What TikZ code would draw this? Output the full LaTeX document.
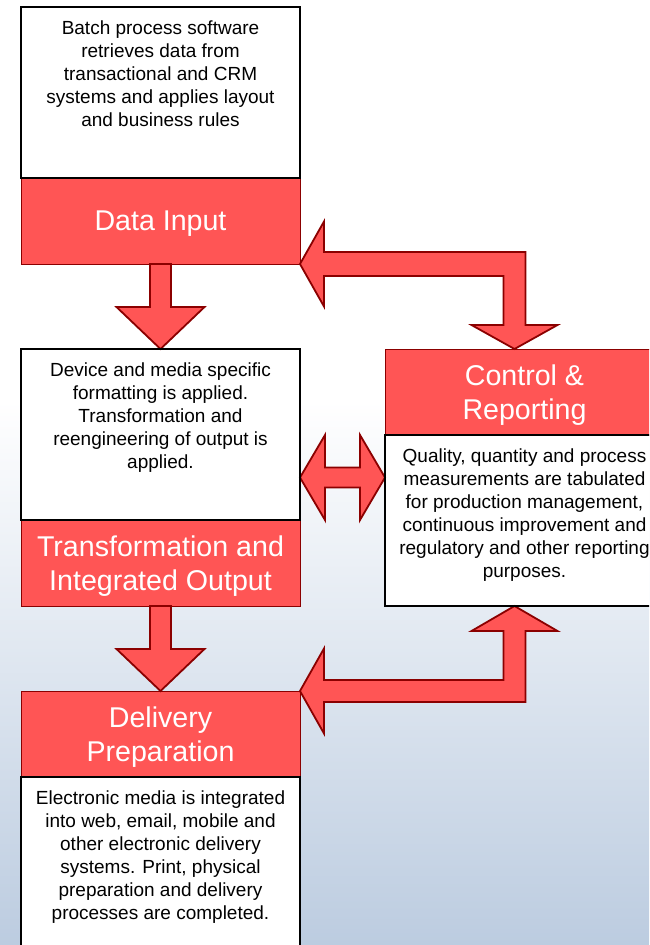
\documentclass[tikz,border=0pt]{standalone}
\usepackage{fontspec}
\setmainfont{Liberation Sans}
\usetikzlibrary{positioning}

\definecolor{boxred}{RGB}{255,85,85}
\definecolor{edgered}{RGB}{139,0,0}
\definecolor{skylow}{RGB}{188,204,224}

\tikzset{
  titlebox/.style={fill=boxred, draw=edgered, line width=1pt, minimum width=279pt,
    minimum height=86pt, text=white, align=center, inner sep=0pt, outer sep=0pt,
    text depth=0pt, font=\fontsize{28.6}{33.5}\selectfont},
  txtbox/.style={fill=white, minimum width=279pt, inner sep=0pt, outer sep=0pt},
  bodytxt/.style={align=center, inner sep=0pt, anchor=north,
    font=\fontsize{19}{23}\selectfont},
  blockarrow/.style={fill=boxred, draw=edgered, line width=1.8pt, line join=miter},
  boxline/.style={draw=black, line width=2pt}
}

\begin{document}
\begin{tikzpicture}[x=1pt, y=-1pt]
  \useasboundingbox (0,0) rectangle (649,945);
  \clip (0,0) rectangle (649,945);
  \fill[white] (0,0) rectangle (649,400);
  \shade[top color=white, bottom color=skylow] (0,400) rectangle (649,945);

  \newcommand{\dnArrow}[2]{%
    \draw[blockarrow] ([xshift=-10.5pt]#1.south) -- ++(0,43) -- ++(-33.5,0) -- (#2.north)
      -- ++(44,-42) -- ++(-33.5,0) -- ([xshift=10.5pt]#1.south) -- cycle;}

  % boxes
  \node[txtbox, minimum height=171pt] (inBox) at (160.5,92.5) {};
  \node[titlebox, below=0pt of inBox] (dataIn) {Data Input};
  \node[txtbox, minimum height=171pt, below=85pt of dataIn] (tfBox) {};
  \node[titlebox, below=0pt of tfBox] (tfIn) {Transformation and\\Integrated Output};
  \node[titlebox, below=85pt of tfIn] (delIn) {Delivery\\Preparation};
  \node[txtbox, minimum height=200pt, below=0pt of delIn] (delBox) {};
  \node[titlebox, anchor=north west] (ctlIn) at ([xshift=85pt]tfBox.north east) {Control \&\\Reporting};
  \node[txtbox, minimum height=171pt, below=0pt of ctlIn] (ctlBox) {};

  % texts
  \node[bodytxt] (inTxt) at ([yshift=-14pt]inBox.north) {Batch process software\\retrieves data from\\transactional and CRM\\systems and applies layout\\and business rules};
  \node[bodytxt] (tfTxt) at ([yshift=-14pt]tfBox.north) {Device and media specific\\formatting is applied.\\Transformation and\\reengineering of output is\\applied.};
  \node[bodytxt] (ctlTxt) at ([yshift=-14pt]ctlBox.north) {Quality, quantity and process\\measurements are tabulated\\for production management,\\continuous improvement and\\regulatory and other reporting\\purposes.};
  \node[bodytxt] (delTxt) at ([yshift=-14pt]delBox.north) {Electronic media is integrated\\into web, email, mobile and\\other electronic delivery\\systems. Print, physical\\preparation and delivery\\processes are completed.};

  % arrows
  \dnArrow{dataIn}{tfBox}
  \dnArrow{tfIn}{delIn}

  \coordinate (tipA) at (dataIn.south east);
  \coordinate (tipB) at ([xshift=-10pt]ctlIn.north);
  \coordinate (bendA) at (tipB |- tipA);
  \draw[blockarrow] (tipA) -- ++(24,-42.5) -- ++(0,30.5) -- ([shift={(11,-12)}]bendA)
    -- ([shift={(11,-24)}]tipB) -- ++(32,0) -- (tipB) -- ++(-43,-24) -- ++(32,0)
    -- ([shift={(-11,12)}]bendA) -- ([shift={(24,12)}]tipA) -- ++(0,30.5) -- cycle;

  \coordinate (tipC) at (delIn.north east);
  \coordinate (tipD) at ([xshift=-10pt]ctlBox.south);
  \coordinate (bendB) at (tipD |- tipC);
  \draw[blockarrow] (tipC) -- ++(24,-42.5) -- ++(0,31.5) -- ([shift={(-11,-11)}]bendB)
    -- ([shift={(-11,25)}]tipD) -- ++(-32,0) -- (tipD) -- ++(43,25) -- ++(-32,0)
    -- ([shift={(11,11)}]bendB) -- ([shift={(24,11)}]tipC) -- ++(0,31.5) -- cycle;

  \coordinate (tipE) at ([yshift=-43pt]tfBox.east);
  \coordinate (tipF) at (ctlBox.west |- tipE);
  \draw[blockarrow] (tipE) -- ++(25,-42.5) -- ++(0,32.5) -- ([shift={(-25,-10)}]tipF)
    -- ++(0,-32.5) -- (tipF) -- ++(-25,42.5) -- ++(0,-32.5) -- ([shift={(25,10)}]tipE)
    -- ++(0,32.5) -- cycle;

  \foreach \b in {inBox,tfBox,ctlBox,delBox}
    \draw[boxline] (\b.north west) rectangle (\b.south east);
\end{tikzpicture}
\end{document}
